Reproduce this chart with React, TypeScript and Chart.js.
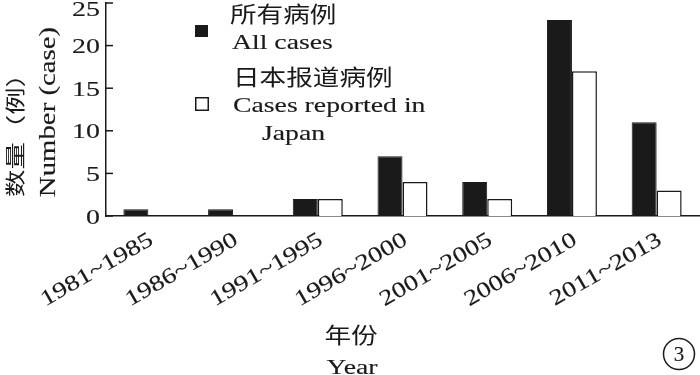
import React, { useEffect, useRef } from "react";
import { Chart, registerables } from "chart.js";

Chart.register(...registerables);

const categories = ["1981~1985", "1986~1990", "1991~1995", "1996~2000", "2001~2005", "2006~2010", "2011~2013"];
const allCases = [0.8, 0.8, 2, 7, 4, 23, 11];
const japanCases = [0, 0, 2, 4, 2, 17, 3];
const yTicks = [0, 5, 10, 15, 20, 25];
const allCasesLabel = ["所有病例", "All cases"];
const japanLabel = ["日本报道病例", "Cases reported in", "Japan"];
const yTitle = ["数量（例）", "Number (case)"];
const xTitle = ["年份", "Year"];
const panelLabel = "3";

const SERIF = '"Liberation Serif", "Times New Roman", serif';
const CJK = '"Noto Sans CJK SC", sans-serif';
const INK = "#1a1a1a";

function wideText(
  ctx: CanvasRenderingContext2D,
  text: string,
  x: number,
  y: number,
  font: string,
  sx: number,
  align: CanvasTextAlign,
  baseline: CanvasTextBaseline,
  rot = 0,
  dy = 0,
  thicken = 0.15
) {
  ctx.save();
  ctx.translate(x, y);
  if (rot) ctx.rotate(rot);
  ctx.scale(sx, 1);
  ctx.font = font;
  ctx.textAlign = align;
  ctx.textBaseline = baseline;
  ctx.fillStyle = INK;
  ctx.fillText(text, 0, dy);
  if (thicken > 0) {
    ctx.strokeStyle = INK;
    ctx.lineWidth = thicken;
    ctx.strokeText(text, 0, dy);
  }
  ctx.restore();
}

const decorPlugin = {
  id: "decor",
  afterDraw(chart: any) {
    const ctx: CanvasRenderingContext2D = chart.ctx;
    const xs = chart.scales.x;
    const ys = chart.scales.y;
    const left = chart.chartArea.left;

    // y ticks (inside) and labels
    ctx.save();
    ctx.strokeStyle = INK;
    ctx.lineWidth = 1.5;
    yTicks.forEach((v) => {
      const py = ys.getPixelForValue(v);
      ctx.beginPath();
      ctx.moveTo(left, py);
      ctx.lineTo(left + 7, py);
      ctx.stroke();
      const base = Math.max(py + 7.5, 15.5);
      wideText(ctx, String(v), 100, base, `22px ${SERIF}`, 1.27, "right", "alphabetic");
    });
    ctx.restore();

    // x tick labels, rotated
    categories.forEach((c, i) => {
      const px = xs.getPixelForTick(i) - 1;
      wideText(ctx, c, px, 231, `22px ${SERIF}`, 1.26, "right", "alphabetic", (-30 * Math.PI) / 180, 14.5);
    });

    // y title
    wideText(ctx, yTitle[1], 55, 112, `24px ${SERIF}`, 1.2, "center", "alphabetic", -Math.PI / 2);
    wideText(ctx, yTitle[0], 15, 128.5, `20px ${CJK}`, 1.37, "center", "middle", -Math.PI / 2, 0, 0);

    // legend
    const ds0 = chart.data.datasets[0];
    const ds1 = chart.data.datasets[1];
    ctx.save();
    ctx.fillStyle = ds0.backgroundColor;
    ctx.fillRect(195, 25, 13, 12);
    ctx.fillStyle = ds1.backgroundColor;
    ctx.fillRect(195.75, 97.75, 12.5, 12.5);
    ctx.strokeStyle = ds1.borderColor;
    ctx.lineWidth = 1.5;
    ctx.strokeRect(195.75, 97.75, 12.5, 12.5);
    ctx.restore();
    wideText(ctx, allCasesLabel[0], 230, 14, `22px ${CJK}`, 1.21, "left", "middle", 0, 0, 0);
    wideText(ctx, allCasesLabel[1], 232, 49, `22px ${SERIF}`, 1.26, "left", "alphabetic");
    wideText(ctx, japanLabel[0], 233, 76.5, `22px ${CJK}`, 1.21, "left", "middle", 0, 0, 0);
    wideText(ctx, japanLabel[1], 233, 112, `22px ${SERIF}`, 1.26, "left", "alphabetic");
    wideText(ctx, japanLabel[2], 262, 140, `22px ${SERIF}`, 1.26, "left", "alphabetic");

    // x title
    wideText(ctx, xTitle[0], 351, 335, `22px ${CJK}`, 1.21, "center", "middle", 0, 0, 0);
    wideText(ctx, xTitle[1], 352, 374, `22px ${SERIF}`, 1.26, "center", "alphabetic");

    // panel label
    ctx.save();
    ctx.strokeStyle = INK;
    ctx.lineWidth = 1.5;
    ctx.beginPath();
    ctx.arc(679, 354, 15.5, 0, Math.PI * 2);
    ctx.stroke();
    ctx.restore();
    wideText(ctx, panelLabel, 679, 361, `21px ${SERIF}`, 1.0, "center", "alphabetic");
  },
};

export default function App() {
  const ref = useRef<HTMLCanvasElement | null>(null);

  useEffect(() => {
    document.body.style.margin = "0";
    document.body.style.background = "#ffffff";
    if (!ref.current) return;
    const chart = new Chart(ref.current, {
      type: "bar",
      data: {
        labels: categories,
        datasets: [
          {
            label: allCasesLabel.join(" "),
            data: allCases,
            backgroundColor: "#1a1a1a",
            borderColor: "#1a1a1a",
            borderWidth: 1,
          },
          {
            label: japanLabel.join(" "),
            data: japanCases,
            backgroundColor: "#ffffff",
            borderColor: "#1a1a1a",
            borderWidth: 1.5,
          },
        ],
      },
      options: {
        responsive: true,
        maintainAspectRatio: false,
        animation: false,
        layout: { padding: { left: 106, top: 3, right: 1, bottom: 159 } },
        datasets: { bar: { categoryPercentage: 0.59, barPercentage: 1 } },
        plugins: { legend: { display: false }, tooltip: { enabled: false } },
        scales: {
          x: {
            ticks: { display: false },
            grid: { display: false, drawTicks: false },
            border: { display: true, color: INK, width: 1.5 },
          },
          y: {
            min: 0,
            max: 25,
            ticks: { display: false, stepSize: 5 },
            grid: { display: false, drawTicks: false },
            border: { display: true, color: INK, width: 1.5 },
          },
        },
      },
      plugins: [decorPlugin],
    } as any);
    return () => chart.destroy();
  }, []);

  return (
    <div style={{ position: "relative", width: 700, height: 375 }}>
      <canvas ref={ref} />
    </div>
  );
}
